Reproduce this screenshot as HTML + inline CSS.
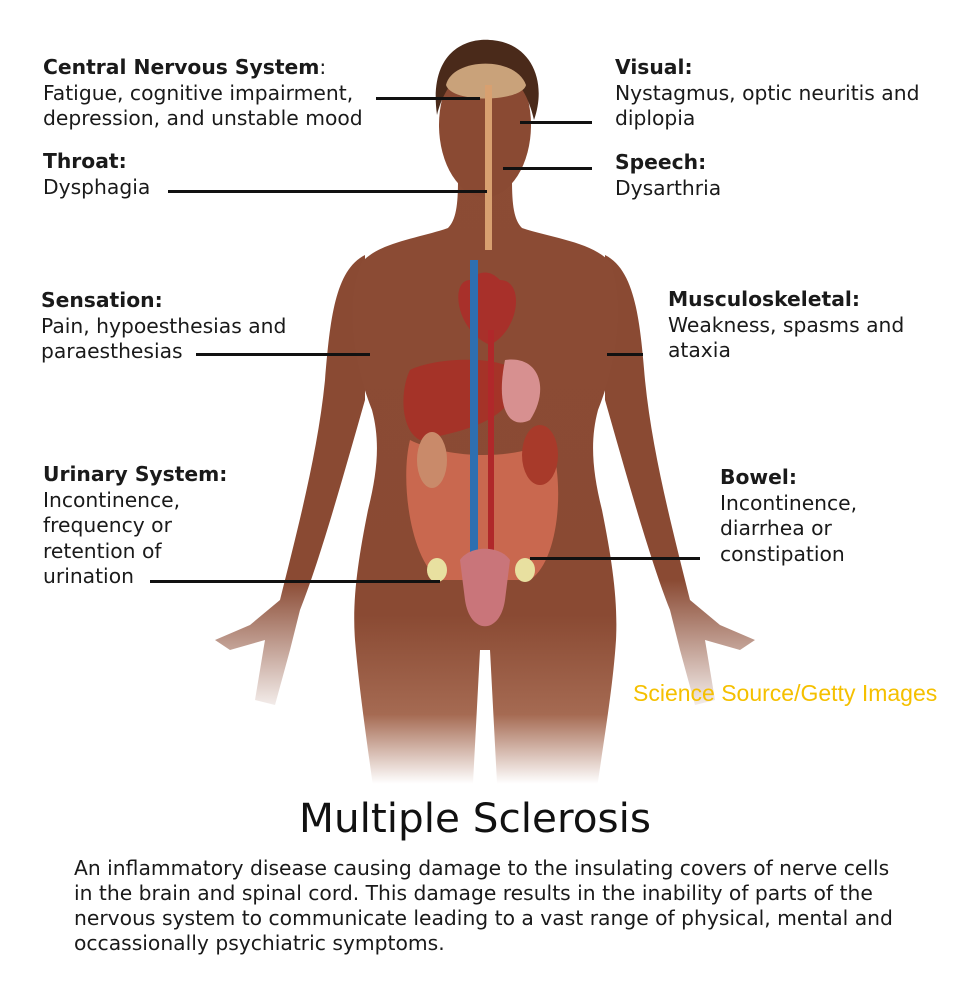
<!DOCTYPE html>
<html><head><meta charset="utf-8">
<style>
html,body{margin:0;padding:0;background:#fff;}
#c{position:relative;width:968px;height:992px;overflow:hidden;font-family:"DejaVu Sans","Liberation Sans",sans-serif;color:#1a1a1a;}
.t{position:absolute;font-size:20.3px;line-height:25.5px;white-space:nowrap;}
.t b{font-weight:bold;}
.ln{position:absolute;height:3px;background:#111;}
</style></head><body><div id="c">
<svg width="968" height="992" style="position:absolute;left:0;top:0">
<defs>
<linearGradient id="sk" gradientUnits="userSpaceOnUse" x1="0" y1="0" x2="0" y2="992">
<stop offset="0" stop-color="#8c4c35"/>
<stop offset="0.62" stop-color="#8a4a33"/>
<stop offset="0.72" stop-color="#a56a52"/>
<stop offset="0.79" stop-color="#ffffff"/>
</linearGradient>
<linearGradient id="hl" gradientUnits="userSpaceOnUse" x1="0" y1="580" x2="0" y2="720">
<stop offset="0" stop-color="#8a4a33"/>
<stop offset="1" stop-color="#ffffff"/>
</linearGradient>
</defs>
<!-- arms -->
<path d="M365 255 C335 270 330 320 325 380 C318 450 300 520 280 600 L250 625 L215 640 L230 650 L265 640 L255 700 L275 705 L290 650 L300 610 C320 560 345 470 365 400 Z" fill="url(#hl)"/>
<path d="M605 255 C635 270 640 320 645 380 C652 450 670 520 690 600 L720 625 L755 640 L740 650 L705 640 L715 700 L695 705 L680 650 L670 610 C650 560 625 470 605 400 Z" fill="url(#hl)"/>
<!-- torso and legs -->
<path d="M458 180 C458 205 456 220 448 228 C420 238 380 242 362 262 C345 300 352 360 372 410 C380 440 378 470 368 510 C358 560 352 600 355 640 C360 700 370 760 380 840 L470 840 L480 650 L490 650 L500 840 L590 840 C600 760 612 700 616 640 C618 600 612 560 602 510 C592 470 590 440 598 410 C618 360 625 300 610 262 C592 242 552 238 522 228 C514 220 512 205 512 180 Z" fill="url(#sk)"/>
<!-- head -->
<ellipse cx="485" cy="125" rx="46" ry="72" fill="#8a4a33"/>
<path d="M437 115 C428 50 468 38 490 40 C530 42 548 80 534 120 C525 80 505 68 485 68 C465 68 446 80 437 115 Z" fill="#4a2a1a"/>
<path d="M446 85 C452 58 515 55 526 85 C522 102 452 104 446 85 Z" fill="#c9a27a"/>
<rect x="485" y="85" width="7" height="165" fill="#d8a070"/>
<!-- organs -->
<path d="M470 280 C450 280 455 330 490 345 C520 330 525 280 500 280 C490 270 480 270 470 280 Z" fill="#a8302a"/>
<path d="M410 370 C440 355 520 355 520 380 C510 420 470 430 420 440 C400 430 400 390 410 370 Z" fill="#a53328"/>
<path d="M505 360 C540 355 550 390 530 420 C510 430 495 410 505 360 Z" fill="#d79090"/>
<path d="M410 440 C400 480 410 560 440 580 L530 580 C560 560 565 480 550 440 C520 460 450 460 410 440 Z" fill="#c9684f"/>
<ellipse cx="540" cy="455" rx="18" ry="30" fill="#a83a2a"/>
<ellipse cx="432" cy="460" rx="15" ry="28" fill="#c98a6a"/>
<rect x="470" y="260" width="8" height="320" fill="#2e6fb0"/>
<rect x="488" y="330" width="6" height="250" fill="#b0282a"/>
<path d="M460 560 C470 545 500 545 510 560 L505 600 C500 635 470 635 465 600 Z" fill="#c9757a"/>
<ellipse cx="437" cy="570" rx="10" ry="12" fill="#e8e0a0"/>
<ellipse cx="525" cy="570" rx="10" ry="12" fill="#e8e0a0"/>
</svg>

<div class="ln" style="left:376px;top:97px;width:104px"></div>
<div class="ln" style="left:520px;top:121px;width:72px"></div>
<div class="ln" style="left:168px;top:190px;width:319px"></div>
<div class="ln" style="left:503px;top:167px;width:89px"></div>
<div class="ln" style="left:196px;top:353px;width:174px"></div>
<div class="ln" style="left:607px;top:353px;width:36px"></div>
<div class="ln" style="left:150px;top:580px;width:290px"></div>
<div class="ln" style="left:530px;top:557px;width:170px"></div>

<div class="t" style="left:43px;top:55px"><b>Central Nervous System</b>:<br>Fatigue, cognitive impairment,<br>depression, and unstable mood</div>
<div class="t" style="left:43px;top:149px"><b>Throat:</b><br>Dysphagia</div>
<div class="t" style="left:41px;top:288px"><b>Sensation:</b><br>Pain, hypoesthesias and<br>paraesthesias</div>
<div class="t" style="left:43px;top:462px"><b>Urinary System:</b><br>Incontinence,<br>frequency or<br>retention of<br>urination</div>
<div class="t" style="left:615px;top:55px"><b>Visual:</b><br>Nystagmus, optic neuritis and<br>diplopia</div>
<div class="t" style="left:615px;top:150px"><b>Speech:</b><br>Dysarthria</div>
<div class="t" style="left:668px;top:287px"><b>Musculoskeletal:</b><br>Weakness, spasms and<br>ataxia</div>
<div class="t" style="left:720px;top:465px"><b>Bowel:</b><br>Incontinence,<br>diarrhea or<br>constipation</div>
<div style="position:absolute;left:633px;top:680px;font-family:'Liberation Sans',sans-serif;font-size:23px;color:#f5c000;white-space:nowrap">Science Source/Getty Images</div>
<div style="position:absolute;left:0;width:950px;top:794px;text-align:center;font-size:40.5px;color:#111">Multiple Sclerosis</div>
<div class="t" style="left:74px;top:856px;line-height:25px">An inflammatory disease causing damage to the insulating covers of nerve cells<br>in the brain and spinal cord. This damage results in the inability of parts of the<br>nervous system to communicate leading to a vast range of physical, mental and<br>occassionally psychiatric symptoms.</div>
</div></body></html>
